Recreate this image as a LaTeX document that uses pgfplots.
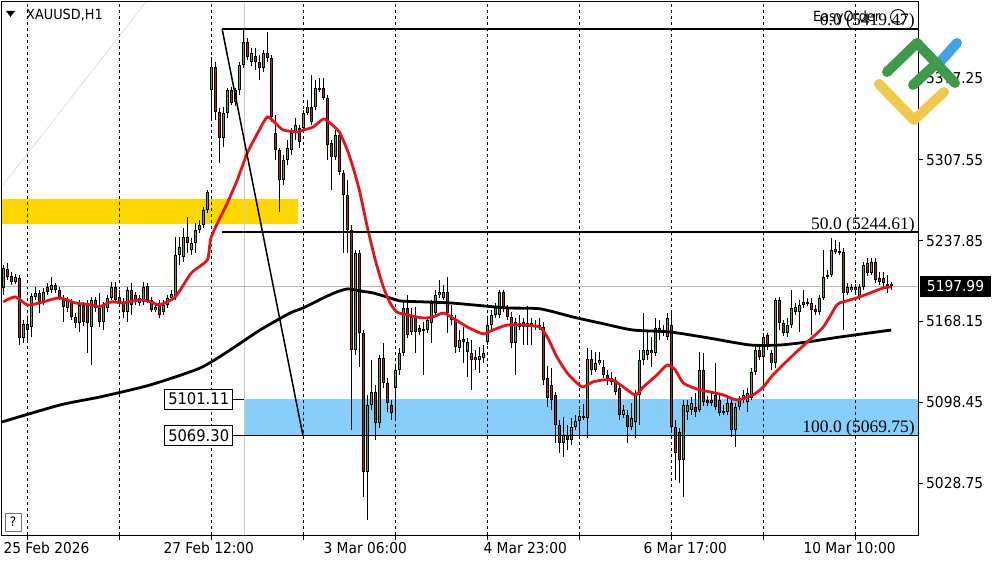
\documentclass[border=0pt]{standalone}
\usepackage{pgfplots}
\pgfplotsset{compat=1.18}
\usepackage{pgfplotstable}
\usepackage{fontspec}
\setmainfont{DejaVu Sans}
\newfontfamily\mt[FakeStretch=0.92]{DejaVu Sans}
\newfontfamily\fibfont{Liberation Serif}
\definecolor{bullc}{HTML}{55A855}
\definecolor{bearc}{HTML}{B22424}
\definecolor{goldc}{HTML}{FFD700}
\definecolor{bluec}{HTML}{87CEFA}
\definecolor{mared}{HTML}{E0161B}
\definecolor{lgreen}{HTML}{3E9A4A}
\definecolor{lblue}{HTML}{3FA3E3}
\definecolor{lyellow}{HTML}{F0C84C}

\pgfplotstableread{
k o h l c
0 5196.6 5216.4 5190.6 5213.8
3 5201.8 5208.7 5200.1 5206.1
5 5153.5 5169.0 5149.2 5165.6
7 5163.0 5192.3 5154.4 5189.7
8 5188.9 5197.5 5186.3 5192.3
10 5184.6 5196.6 5182.0 5193.2
12 5194.9 5206.1 5192.3 5199.2
16 5179.4 5188.9 5175.9 5186.3
19 5166.4 5186.3 5158.7 5182.0
22 5163.0 5188.9 5130.3 5186.3
25 5167.3 5184.6 5160.4 5182.0
26 5179.4 5190.6 5175.9 5188.0
27 5188.0 5201.8 5186.3 5197.5
31 5175.9 5197.5 5167.3 5194.9
34 5183.7 5190.6 5181.1 5188.0
35 5184.6 5201.8 5182.0 5197.5
38 5177.6 5183.7 5175.9 5180.3
40 5175.9 5186.3 5173.3 5182.0
41 5182.0 5190.6 5179.4 5188.0
42 5188.0 5194.9 5186.3 5191.5
43 5188.9 5240.5 5186.3 5225.0
44 5225.0 5240.5 5216.4 5231.9
45 5223.3 5248.2 5219.0 5240.5
47 5229.3 5239.6 5225.0 5235.3
48 5235.3 5252.5 5226.7 5246.5
49 5246.5 5255.1 5243.9 5250.8
50 5250.8 5266.3 5248.2 5263.7
51 5263.7 5280.9 5261.1 5279.2
52 5366.9 5395.4 5341.1 5386.8
55 5325.6 5352.4 5317.9 5347.1
56 5347.1 5368.7 5342.8 5366.9
58 5356.7 5368.7 5353.2 5366.9
59 5366.9 5391.1 5362.6 5388.5
60 5388.5 5418.6 5385.9 5408.3
62 5391.1 5403.1 5387.6 5398.8
65 5385.9 5401.4 5382.5 5398.8
70 5289.5 5311.0 5285.2 5306.7
71 5306.7 5323.9 5302.4 5317.0
72 5315.3 5334.2 5311.0 5329.9
73 5329.9 5342.8 5323.9 5336.8
75 5334.2 5349.7 5330.8 5347.1
76 5347.1 5358.4 5345.4 5352.4
78 5352.4 5375.6 5349.7 5368.7
79 5366.9 5377.3 5365.2 5368.7
83 5309.3 5332.5 5306.7 5328.2
88 5143.2 5229.3 5138.9 5226.7
91 5038.3 5104.5 4996.9 5095.9
92 5095.9 5134.6 5091.6 5107.1
94 5080.4 5138.9 5076.1 5136.3
98 5110.5 5130.3 5084.7 5126.0
99 5126.0 5144.9 5121.7 5140.6
100 5140.6 5186.3 5138.0 5179.4
102 5158.7 5179.4 5156.1 5171.6
105 5159.5 5167.3 5121.7 5161.3
106 5160.4 5171.6 5157.8 5169.0
107 5166.4 5186.3 5149.2 5183.7
108 5175.0 5194.9 5172.4 5190.6
109 5190.6 5203.5 5188.0 5193.2
110 5188.0 5199.2 5186.3 5193.2
114 5144.9 5160.4 5141.5 5151.8
116 5141.5 5153.5 5120.0 5150.1
119 5134.6 5145.8 5123.4 5138.0
120 5136.3 5147.5 5132.0 5140.6
121 5150.1 5170.7 5147.5 5164.7
122 5164.7 5177.6 5160.4 5173.3
123 5173.3 5183.7 5170.7 5179.4
124 5173.3 5194.9 5170.7 5193.2
128 5149.2 5170.7 5121.7 5167.3
129 5163.0 5173.3 5160.4 5166.4
131 5163.0 5181.1 5147.5 5166.4
133 5163.0 5169.0 5160.4 5164.7
134 5163.0 5170.7 5160.4 5164.7
140 5063.2 5085.6 5051.2 5070.1
142 5065.8 5084.7 5061.5 5077.0
143 5077.0 5087.3 5074.4 5082.1
144 5082.1 5091.6 5070.1 5086.4
145 5084.7 5096.8 5083.0 5086.4
146 5084.7 5144.9 5067.5 5135.5
148 5126.0 5141.5 5124.3 5132.0
149 5132.0 5141.5 5130.3 5134.6
155 5087.3 5095.9 5084.7 5091.6
157 5077.0 5097.6 5074.4 5084.7
158 5081.3 5108.8 5067.5 5106.2
159 5104.5 5143.2 5078.7 5134.6
160 5134.6 5175.0 5130.3 5143.2
161 5138.9 5160.4 5134.6 5143.2
163 5140.6 5170.7 5138.0 5162.1
165 5157.8 5164.7 5155.2 5160.4
166 5154.4 5175.0 5151.8 5170.7
170 5048.6 5100.2 5016.8 5095.9
171 5089.9 5100.2 5083.0 5095.9
172 5091.6 5102.8 5087.3 5097.6
174 5091.6 5141.5 5089.9 5126.0
177 5097.6 5106.2 5095.0 5100.2
180 5089.9 5095.9 5087.3 5090.7
181 5089.9 5101.9 5087.3 5097.6
183 5074.4 5097.6 5059.8 5094.2
184 5094.2 5103.6 5091.6 5100.2
185 5100.2 5108.8 5097.6 5104.5
186 5098.5 5110.5 5089.9 5106.2
187 5101.9 5127.7 5100.2 5124.3
188 5124.3 5147.5 5121.7 5143.2
190 5137.2 5157.8 5114.8 5154.4
193 5132.0 5188.0 5127.7 5186.3
196 5157.8 5170.7 5154.4 5164.7
197 5164.7 5194.9 5162.1 5179.4
198 5175.9 5183.7 5173.3 5180.3
199 5175.9 5186.3 5158.7 5182.0
200 5182.0 5194.9 5179.4 5184.6
201 5182.9 5188.0 5181.1 5184.6
204 5175.9 5190.6 5173.3 5188.0
205 5188.0 5229.3 5186.3 5206.1
206 5206.1 5212.1 5204.4 5207.8
207 5207.8 5239.6 5206.1 5229.3
209 5226.7 5236.2 5225.0 5228.4
211 5192.3 5200.9 5190.6 5197.5
212 5194.9 5200.1 5193.2 5197.5
214 5188.9 5200.1 5186.3 5197.5
215 5197.5 5219.0 5194.9 5216.4
217 5209.5 5222.4 5207.8 5219.0
221 5198.3 5207.8 5192.3 5200.1
}\bull

\pgfplotstableread{
k o h l c
1 5213.0 5218.1 5203.5 5206.1
2 5206.9 5210.4 5199.2 5201.8
4 5205.2 5207.8 5147.5 5153.5
6 5165.6 5170.7 5151.8 5160.4
9 5192.3 5194.9 5175.0 5184.6
11 5197.5 5200.9 5190.6 5193.2
13 5199.2 5200.9 5192.3 5194.9
14 5194.9 5197.5 5186.3 5188.0
15 5188.0 5190.6 5167.3 5180.3
17 5184.6 5187.2 5169.0 5171.6
18 5171.6 5175.0 5162.1 5166.4
20 5182.0 5184.6 5163.8 5167.3
21 5183.7 5186.3 5140.6 5166.4
23 5186.3 5188.9 5175.9 5179.4
24 5179.4 5192.3 5163.0 5167.3
28 5197.5 5201.8 5183.7 5186.3
29 5188.9 5194.9 5182.0 5184.6
30 5184.6 5188.0 5170.7 5175.9
32 5194.9 5200.9 5173.3 5182.0
33 5190.6 5193.2 5182.0 5184.6
36 5198.3 5200.9 5183.7 5186.3
37 5186.3 5188.9 5175.9 5177.6
39 5183.7 5186.3 5170.7 5173.3
46 5240.5 5257.7 5226.7 5235.3
53 5386.8 5391.1 5341.1 5348.0
54 5348.0 5351.5 5304.1 5325.6
57 5366.9 5369.6 5354.1 5355.8
61 5408.3 5411.7 5392.8 5395.4
63 5396.2 5403.1 5384.2 5391.1
64 5391.1 5397.1 5375.6 5385.9
66 5398.8 5416.9 5391.1 5394.5
67 5394.5 5397.1 5339.4 5343.7
68 5329.9 5345.4 5306.7 5315.3
69 5315.3 5317.0 5262.0 5289.5
74 5334.2 5336.8 5317.0 5322.2
77 5352.4 5379.9 5336.8 5339.4
80 5368.7 5377.3 5358.4 5360.0
81 5360.0 5362.6 5306.7 5319.6
82 5321.3 5323.9 5280.9 5309.3
84 5328.2 5330.8 5293.8 5296.4
85 5295.5 5298.1 5226.7 5276.6
86 5276.6 5289.5 5226.7 5246.5
87 5246.5 5250.8 5074.4 5143.2
89 5226.7 5229.3 5128.6 5157.8
90 5157.8 5160.4 5016.8 5038.3
93 5107.1 5113.1 5065.8 5080.4
95 5136.3 5149.2 5110.5 5114.8
96 5114.8 5119.1 5089.9 5097.6
97 5095.9 5100.2 5083.0 5089.0
101 5179.4 5190.6 5153.5 5156.1
103 5171.6 5180.3 5140.6 5158.7
104 5162.1 5164.7 5156.1 5158.7
111 5193.2 5206.1 5157.8 5175.0
112 5173.3 5182.0 5164.7 5169.0
113 5169.0 5173.3 5140.6 5145.8
115 5152.7 5163.0 5132.0 5150.1
117 5140.6 5151.8 5108.8 5134.6
118 5137.2 5143.2 5126.0 5134.6
125 5193.2 5194.9 5175.9 5179.4
126 5179.4 5182.0 5169.0 5171.6
127 5171.6 5175.9 5144.9 5149.2
130 5167.3 5170.7 5147.5 5163.0
132 5166.4 5170.7 5147.5 5163.0
135 5163.0 5167.3 5113.1 5117.4
136 5119.1 5129.4 5094.2 5101.9
137 5113.1 5127.7 5091.6 5100.2
138 5104.5 5107.1 5063.2 5078.7
139 5078.7 5083.0 5054.6 5063.2
141 5070.1 5078.7 5057.2 5065.8
147 5135.5 5143.2 5121.7 5126.0
150 5128.6 5134.6 5119.1 5121.7
151 5121.7 5126.0 5113.1 5117.4
152 5119.1 5124.3 5113.1 5115.7
153 5117.4 5120.0 5104.5 5107.1
154 5110.5 5113.1 5083.0 5087.3
156 5087.3 5091.6 5063.2 5077.0
162 5143.2 5154.4 5128.6 5140.6
164 5162.1 5169.0 5151.8 5157.8
167 5165.0 5175.0 5074.4 5077.0
168 5077.0 5083.0 5031.4 5054.6
169 5072.7 5076.1 5028.8 5048.6
173 5094.2 5106.2 5085.6 5089.9
175 5126.0 5140.6 5095.0 5098.5
176 5100.2 5103.6 5095.0 5097.6
178 5104.5 5132.0 5091.6 5094.2
179 5100.2 5104.5 5086.4 5089.0
182 5097.6 5100.2 5068.4 5074.4
189 5143.2 5146.6 5134.6 5137.2
191 5156.1 5157.8 5143.2 5147.5
192 5140.6 5143.2 5126.0 5132.0
194 5186.3 5188.9 5160.4 5166.4
195 5166.4 5169.0 5155.2 5157.8
202 5183.7 5188.0 5156.1 5177.6
203 5178.6 5182.0 5173.3 5175.9
208 5230.2 5237.9 5225.9 5227.6
210 5227.6 5231.0 5160.4 5192.3
213 5197.5 5200.1 5192.3 5194.9
216 5218.1 5222.4 5206.9 5209.5
218 5219.0 5222.4 5200.9 5203.5
219 5205.2 5210.4 5199.2 5201.8
220 5205.2 5210.4 5196.6 5200.9
222 5200.1 5201.8 5194.9 5198.0
}\bear

\pgfplotsset{
  wick/.style={draw=none, mark=none, forget plot,
    error bars/.cd, y dir=both, y explicit, error mark=none,
    error bar style={draw=black, solid, line width=1pt}},
  bodyout/.style={draw=none, mark=none, forget plot,
    error bars/.cd, y dir=both, y explicit, error mark=none,
    error bar style={draw=black, solid, line width=3.3pt}},
  bodyin/.style={draw=none, mark=none, forget plot,
    error bars/.cd, y dir=both, y explicit, error mark=none,
    error bar style={draw=#1, solid, line width=1.5pt}},
}

\begin{document}
\begin{tikzpicture}
\path[use as bounding box] (0pt,0pt) rectangle (1000pt,562pt);
\fill[white] (0pt,0pt) rectangle (1000pt,562pt);
\begin{axis}[
  at={(2pt,27pt)}, anchor=south west,
  scale only axis, width=916pt, height=533pt,
  xmin=-0.325, xmax=228.675, ymin=4984.0, ymax=5442.65,
  axis line style={black, line width=1pt},
  xtick={6,29,52,75,98,121,144,167,190,213}, xticklabels={},
  ytick={5028.75,5098.45,5168.15,5237.85,5307.55,5377.25}, yticklabels={},
  xtick pos=bottom, ytick pos=right, tick align=outside,
  major tick length=5pt, tick style={black, line width=0.8pt},
]
% zones
\fill[goldc] (axis cs:-0.325,5273.2) rectangle (axis cs:73.7,5251.7);
\fill[bluec] (axis cs:60.2,5101.11) rectangle (axis cs:228.675,5069.30);
% grid
\pgfplotsinvokeforeach{6,29,52,75,98,121,144,167,190,213}{
  \draw[black, line width=0.8pt, dash pattern=on 3pt off 3pt] (axis cs:#1,4984.0) -- (axis cs:#1,5442.65);
}
\draw[black!22, line width=0.8pt] (axis cs:60.2,4984.0) -- (axis cs:60.2,5442.65);
\draw[black!28, line width=0.8pt] (axis cs:-0.325,5197.99) -- (axis cs:228.675,5197.99);

% candles: wicks
\addplot[wick] table[x=k, y expr={(\thisrow{h}+\thisrow{l})/2}, y error expr={(\thisrow{h}-\thisrow{l})/2}] {\bull};
\addplot[wick] table[x=k, y expr={(\thisrow{h}+\thisrow{l})/2}, y error expr={(\thisrow{h}-\thisrow{l})/2}] {\bear};
% bodies
\addplot[bodyout] table[x=k, y expr={(\thisrow{o}+\thisrow{c})/2}, y error expr={max(abs(\thisrow{c}-\thisrow{o})/2,0.7)}] {\bull};
\addplot[bodyout] table[x=k, y expr={(\thisrow{o}+\thisrow{c})/2}, y error expr={max(abs(\thisrow{c}-\thisrow{o})/2,0.7)}] {\bear};
\addplot[bodyin=bullc] table[x=k, y expr={(\thisrow{o}+\thisrow{c})/2}, y error expr={max(abs(\thisrow{c}-\thisrow{o})/2-0.9,0)}] {\bull};
\addplot[bodyin=bearc] table[x=k, y expr={(\thisrow{o}+\thisrow{c})/2}, y error expr={max(abs(\thisrow{c}-\thisrow{o})/2-0.9,0)}] {\bear};

% slow MA (black)
\addplot[black, line width=2.8pt, smooth, tension=0.4, mark=none] coordinates {
(-0.3,5081.3) (14.2,5095.9) (24.2,5102.8) (36.7,5113.1) (49.2,5127.7) (56.7,5143.2)
(64.2,5160.4) (71.7,5175.0) (75,5179.4) (80,5188.0) (83.4,5193.2) (86.2,5195.8)
(89.2,5194.0) (92.4,5192.3) (96.7,5188.0) (99.2,5185.4) (105,5184.6) (111.7,5183.7)
(117.4,5182.0) (126,5179.4) (134.2,5178.6) (142.4,5171.6) (149.2,5166.4) (157.4,5160.4)
(166.7,5158.7) (176.4,5153.5) (186.7,5147.5) (194.2,5147.5) (201,5150.1) (209.2,5154.4)
(222,5160.4)
};
% fast MA (red)
\addplot[mared, line width=2.8pt, smooth, tension=0.4, mark=none] coordinates {
(0,5184.6) (3,5188.9) (6,5182.0) (9,5183.7) (14,5188.0) (18,5183.7) (22,5182.0)
(24,5180.3) (27,5184.6) (30,5183.7) (34,5186.3) (37,5184.6) (39,5182.0) (43,5188.9)
(47,5209.5) (51,5220.7) (52,5240.5) (56,5269.7) (58.5,5289.5) (61,5312.7) (64,5332.5)
(66,5343.7) (68,5338.5) (70,5332.5) (73.5,5330.8) (75,5332.5) (77.5,5335.1) (80,5342.0)
(81.7,5338.5) (84,5330.8) (86,5315.3) (87.4,5300.7) (89,5280.9) (91,5249.1) (93,5220.7)
(95,5197.5) (96.7,5183.7) (98.4,5175.9) (101,5173.3) (105,5170.7) (107.4,5171.6)
(110,5175.0) (112.4,5170.7) (116,5163.0) (120,5157.0) (122.4,5160.4) (126,5164.7)
(130,5164.7) (134,5163.0) (136,5154.4) (138.4,5137.2) (141,5123.4) (143.4,5114.8)
(145,5111.4) (147.4,5115.7) (150,5117.4) (152.4,5117.4) (155,5111.4) (158,5104.5)
(160,5111.4) (163.4,5121.7) (166,5130.3) (168,5126.0) (170,5114.8) (173.4,5109.6)
(176.7,5107.1) (180,5104.5) (183.4,5100.2) (187.4,5104.5) (190,5111.4) (192.4,5121.7)
(196.7,5136.3) (201,5150.1) (205,5163.0) (208.4,5182.0) (210,5184.6) (213.4,5188.0)
(217.4,5193.2) (220,5196.6) (222,5197.5)
};

% Fibonacci object
\draw[black, line width=1.5pt] (axis cs:54.7,5419.47) -- (axis cs:228.675,5419.47);
\draw[black, line width=1.5pt] (axis cs:54.7,5244.61) -- (axis cs:228.675,5244.61);
\draw[black, line width=1.5pt] (axis cs:54.7,5069.75) -- (axis cs:228.675,5069.75);
\draw[black, line width=1.5pt] (axis cs:54.7,5419.47) -- (axis cs:74.9,5069.75);
\node[anchor=base east, inner sep=0pt, yshift=3pt] at (axis cs:227.9,5244.61) {\fibfont\fontsize{17.5}{17.5}\selectfont 50.0 (5244.61)};
\node[anchor=base east, inner sep=0pt, yshift=3pt] at (axis cs:227.9,5069.75) {\fibfont\fontsize{17.5}{17.5}\selectfont 100.0 (5069.75)};
\node[anchor=base east, inner sep=0pt, yshift=3pt] at (axis cs:227.9,5419.47) {\fibfont\fontsize{17.5}{17.5}\selectfont 0.0 (5419.47)};

% price labels of the zone
\draw[black, line width=0.8pt] (axis cs:57.4,5101.11) -- (axis cs:60.2,5101.11);
\node[draw=black, fill=white, line width=0.8pt, anchor=east, inner sep=0pt, minimum height=20pt, minimum width=68pt] at (axis cs:57.45,5101.11) {\mt\fontsize{16}{16}\selectfont 5101.11};
\node[draw=black, fill=white, line width=0.8pt, anchor=east, inner sep=0pt, minimum height=20pt, minimum width=68pt] at (axis cs:57.45,5069.30) {\mt\fontsize{16}{16}\selectfont 5069.30};
\end{axis}

\begin{scope}[x=1pt, y=1pt]
% faint diagonal
\draw[black!14, line width=0.7pt] (3,377) -- (146,560);
% title
\fill[black] (6,551) -- (15,551) -- (10.5,545) -- cycle;
\node[anchor=west, inner sep=0pt] at (26,547) {\mt\fontsize{14}{14}\selectfont XAUUSD,H1};
% easy order
\node[anchor=base west, inner sep=0pt] at (813,540) {\mt\fontsize{14}{14}\selectfont EasyOrder};
\draw[black, line width=0.9pt] (898,545) circle (7.5);
% help box
\draw[black!55, line width=0.8pt] (5,31) rectangle (21,49);
\node[inner sep=0pt] at (13,40) {\mt\fontsize{13}{13}\selectfont ?};
% date labels
\foreach \xx/\lab in {3.3/25 Feb 2026, 163.3/27 Feb 12:00, 323.3/3 Mar 06:00, 483.3/4 Mar 23:00, 643.3/6 Mar 17:00, 803.3/10 Mar 10:00}{
  \node[anchor=base west, inner sep=0pt] at (\xx,9) {\mt\fontsize{15}{15}\selectfont \lab};
}
% price scale labels
\foreach \yy/\lab in {484/5377.25, 402/5307.55, 321/5237.85, 241/5168.15, 160/5098.45, 79/5028.75}{
  \node[anchor=west, inner sep=0pt] at (926,\yy) {\mt\fontsize{15}{15}\selectfont \lab};
}
% current price
\fill[black] (920,265) rectangle (991,286);
\node[inner sep=0pt, text=white] at (955.5,275.5) {\mt\fontsize{15}{15}\selectfont 5197.99};
% logo
\draw[lyellow, line width=10pt, line cap=round, line join=round] (879,478) -- (914,442) -- (944,470);
\draw[lblue, line width=10pt, line cap=round] (940,500) -- (957,519);
\draw[lgreen, line width=10pt, line cap=round, line join=round] (887,490) -- (917,519) -- (955,479);
\draw[lgreen, line width=10pt, line cap=round] (913,477) -- (937,499);
\end{scope}
\end{tikzpicture}
\end{document}
